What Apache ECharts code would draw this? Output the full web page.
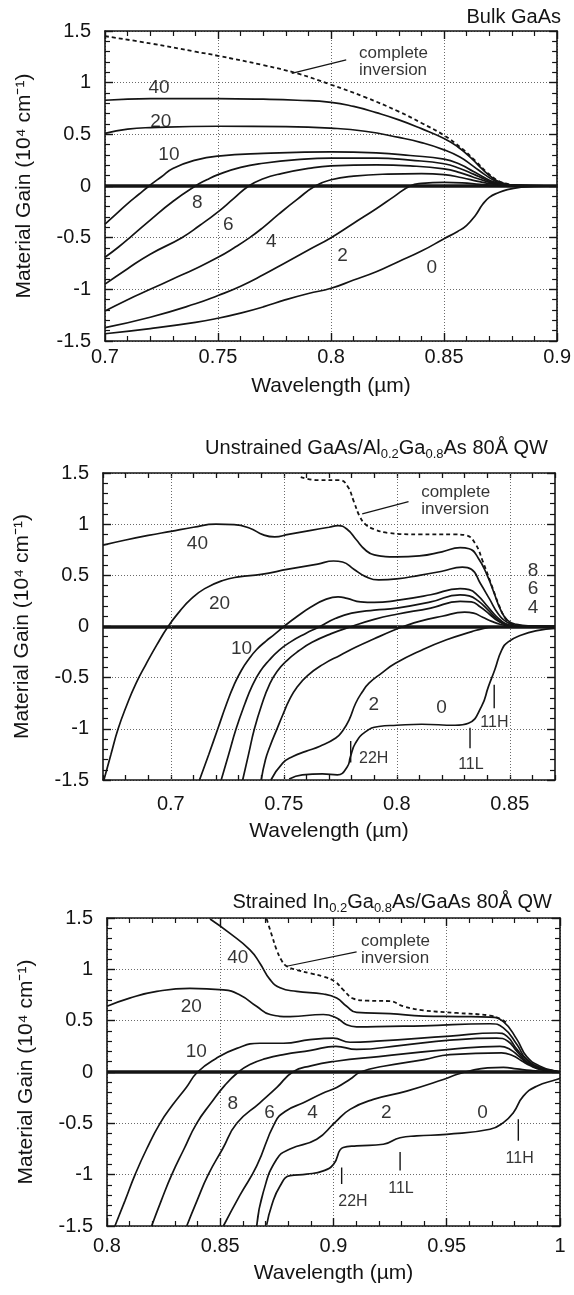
<!DOCTYPE html>
<html><head><meta charset="utf-8">
<script src="https://cdn.jsdelivr.net/npm/echarts/dist/echarts.min.js"></script>
<style>html,body{margin:0;padding:0;background:#fff;}#c{width:574px;height:1295px;}</style>
</head><body><div id="c"></div>
<script>
// ---------------- DATA ----------------
const curveNames = ['0','2','4','6','8','10','20','40'];
const yTicks = [-1.5,-1,-0.5,0,0.5,1,1.5];
const p1XTicks = [0.7,0.75,0.8,0.85,0.9];
const p2XTicks = [0.7,0.75,0.8,0.85];
const p3XTicks = [0.8,0.85,0.9,0.95,1];

// Panel 1: Bulk GaAs
const p1_inv = [[0.7,1.45],[0.72,1.38],[0.74,1.30],[0.75,1.26],[0.77,1.17],[0.785,1.09],[0.8,0.98],[0.815,0.86],[0.83,0.72],[0.84,0.61],[0.85,0.49],[0.858,0.36],[0.864,0.24],[0.869,0.13],[0.874,0.05],[0.879,0.015],[0.885,0]];
const p1_c40 = [[0.7,0.83],[0.72,0.845],[0.75,0.845],[0.77,0.84],[0.785,0.83],[0.8,0.81],[0.81,0.77],[0.82,0.71],[0.83,0.64],[0.84,0.555],[0.85,0.46],[0.856,0.38],[0.862,0.27],[0.867,0.16],[0.871,0.085],[0.875,0.035],[0.88,0.01],[0.885,0],[0.9,0]];
const p1_c20 = [[0.7,0.51],[0.71,0.55],[0.72,0.565],[0.75,0.578],[0.78,0.575],[0.8,0.56],[0.815,0.53],[0.83,0.47],[0.84,0.42],[0.85,0.35],[0.857,0.28],[0.863,0.19],[0.868,0.11],[0.872,0.055],[0.876,0.02],[0.88,0.005],[0.9,0]];
const p1_c10 = [[0.7,-0.37],[0.705,-0.27],[0.71,-0.17],[0.715,-0.08],[0.7195,0],[0.725,0.09],[0.73,0.17],[0.74,0.25],[0.75,0.29],[0.77,0.315],[0.8,0.33],[0.82,0.32],[0.835,0.295],[0.85,0.26],[0.857,0.21],[0.863,0.14],[0.868,0.08],[0.872,0.04],[0.877,0.012],[0.9,0]];
const p1_c8 = [[0.7,-0.69],[0.706,-0.59],[0.712,-0.48],[0.72,-0.33],[0.73,-0.15],[0.74,0],[0.745,0.06],[0.75,0.11],[0.76,0.18],[0.77,0.22],[0.785,0.255],[0.8,0.27],[0.82,0.27],[0.835,0.25],[0.85,0.215],[0.857,0.17],[0.863,0.115],[0.868,0.065],[0.872,0.032],[0.877,0.01],[0.9,0]];
const p1_c6 = [[0.7,-0.95],[0.71,-0.8],[0.72,-0.66],[0.734,-0.5],[0.742,-0.38],[0.75,-0.25],[0.757,-0.12],[0.7636,0],[0.77,0.07],[0.778,0.12],[0.79,0.17],[0.8,0.195],[0.82,0.205],[0.835,0.195],[0.85,0.165],[0.857,0.13],[0.863,0.085],[0.868,0.05],[0.872,0.025],[0.877,0.008],[0.9,0]];
const p1_c4 = [[0.7,-1.21],[0.71,-1.1],[0.72,-1.0],[0.73,-0.9],[0.74,-0.8],[0.75,-0.69],[0.757,-0.6],[0.764,-0.5],[0.77,-0.4],[0.777,-0.27],[0.785,-0.13],[0.793,0],[0.8,0.06],[0.81,0.095],[0.825,0.115],[0.84,0.12],[0.85,0.11],[0.858,0.08],[0.865,0.045],[0.871,0.02],[0.877,0.005],[0.9,0]];
const p1_c2 = [[0.7,-1.37],[0.72,-1.27],[0.74,-1.14],[0.75,-1.06],[0.76,-0.97],[0.77,-0.86],[0.78,-0.74],[0.79,-0.62],[0.8,-0.5],[0.81,-0.36],[0.82,-0.22],[0.828,-0.1],[0.835,0],[0.84,0.025],[0.85,0.035],[0.858,0.03],[0.866,0.015],[0.873,0.005],[0.9,0]];
const p1_c0 = [[0.7,-1.43],[0.72,-1.38],[0.74,-1.32],[0.75,-1.28],[0.76,-1.23],[0.77,-1.17],[0.78,-1.1],[0.79,-1.04],[0.8,-0.99],[0.81,-0.91],[0.82,-0.83],[0.83,-0.73],[0.84,-0.63],[0.85,-0.51],[0.856,-0.44],[0.86,-0.38],[0.864,-0.28],[0.867,-0.18],[0.87,-0.11],[0.874,-0.065],[0.878,-0.035],[0.884,-0.012],[0.89,-0.004],[0.9,0]];
const p1_leader = [[0.7826,1.09],[0.8067,1.22]];
const p1_curveLabels = [[0.7241,0.946,'40'],[0.7249,0.62,'20'],[0.7285,0.30,'10'],[0.741,-0.17,'8'],[0.7548,-0.38,'6'],[0.7738,-0.54,'4'],[0.8053,-0.68,'2'],[0.8448,-0.80,'0']];
const p1_invLabel = [0.8126,1.195,'complete\ninversion'];

// Panel 2: Unstrained GaAs/Al0.2Ga0.8As 80Å QW
const p2_inv = [[0.7575,1.46],[0.765,1.43],[0.775,1.43],[0.7785,1.36],[0.781,1.22],[0.7835,1.08],[0.786,1.0],[0.79,0.95],[0.796,0.915],[0.81,0.9],[0.825,0.9],[0.831,0.89],[0.835,0.8],[0.838,0.64],[0.842,0.4],[0.845,0.22],[0.848,0.08],[0.851,0.02],[0.856,0.004]];
const p2_c40 = [[0.67,0.795],[0.68,0.845],[0.69,0.89],[0.7,0.93],[0.71,0.97],[0.72,1.0],[0.728,0.995],[0.735,0.96],[0.741,0.895],[0.746,0.875],[0.752,0.9],[0.762,0.94],[0.77,0.97],[0.774,0.985],[0.778,0.95],[0.782,0.85],[0.786,0.75],[0.79,0.70],[0.8,0.68],[0.81,0.69],[0.82,0.73],[0.828,0.77],[0.832,0.76],[0.836,0.67],[0.84,0.50],[0.843,0.33],[0.846,0.16],[0.849,0.06],[0.853,0.02],[0.86,0.005],[0.87,0]];
const p2_c20 = [[0.6704,-1.5],[0.6735,-1.25],[0.6767,-1.0],[0.6805,-0.77],[0.6845,-0.56],[0.689,-0.37],[0.6938,-0.18],[0.6988,0],[0.704,0.15],[0.709,0.27],[0.715,0.37],[0.723,0.45],[0.73,0.485],[0.74,0.51],[0.752,0.56],[0.765,0.61],[0.772,0.64],[0.776,0.63],[0.781,0.56],[0.786,0.49],[0.792,0.455],[0.8,0.465],[0.81,0.5],[0.82,0.54],[0.829,0.58],[0.833,0.56],[0.837,0.42],[0.841,0.27],[0.845,0.12],[0.849,0.04],[0.853,0.01],[0.87,0]];
const p2_c10 = [[0.7127,-1.5],[0.7168,-1.25],[0.7208,-1.0],[0.7246,-0.76],[0.728,-0.57],[0.7312,-0.43],[0.7345,-0.32],[0.738,-0.225],[0.742,-0.145],[0.746,-0.075],[0.75,0],[0.756,0.1],[0.762,0.19],[0.768,0.26],[0.774,0.29],[0.778,0.275],[0.784,0.24],[0.79,0.235],[0.8,0.255],[0.815,0.31],[0.828,0.37],[0.832,0.36],[0.836,0.3],[0.84,0.2],[0.844,0.1],[0.848,0.03],[0.853,0.005],[0.87,0]];
const p2_c8 = [[0.7223,-1.5],[0.7256,-1.25],[0.7289,-1.0],[0.7327,-0.76],[0.736,-0.58],[0.7395,-0.44],[0.7435,-0.33],[0.748,-0.23],[0.753,-0.15],[0.7595,-0.07],[0.766,0],[0.773,0.08],[0.78,0.13],[0.79,0.16],[0.8,0.18],[0.815,0.24],[0.828,0.31],[0.832,0.30],[0.836,0.25],[0.84,0.17],[0.844,0.08],[0.848,0.02],[0.853,0.005],[0.87,0]];
const p2_c6 = [[0.7318,-1.5],[0.7344,-1.25],[0.737,-1.0],[0.7403,-0.76],[0.7436,-0.57],[0.747,-0.44],[0.7515,-0.33],[0.7565,-0.24],[0.7625,-0.155],[0.771,-0.07],[0.78,0],[0.79,0.07],[0.8,0.12],[0.815,0.18],[0.828,0.245],[0.833,0.24],[0.837,0.19],[0.841,0.12],[0.845,0.05],[0.849,0.015],[0.855,0.003],[0.87,0]];
const p2_c4 = [[0.740,-1.5],[0.7419,-1.3],[0.7439,-1.17],[0.747,-1.0],[0.7498,-0.85],[0.7524,-0.72],[0.7556,-0.6],[0.7605,-0.48],[0.7674,-0.37],[0.775,-0.28],[0.782,-0.2],[0.79,-0.12],[0.7994,-0.03],[0.803,0],[0.81,0.05],[0.82,0.1],[0.83,0.14],[0.834,0.13],[0.838,0.09],[0.842,0.05],[0.846,0.02],[0.85,0.005],[0.87,0]];
const p2_c2 = [[0.7443,-1.5],[0.7495,-1.335],[0.754,-1.27],[0.7597,-1.22],[0.766,-1.17],[0.773,-1.09],[0.776,-1.02],[0.7789,-0.912],[0.7818,-0.75],[0.7847,-0.64],[0.7877,-0.554],[0.793,-0.46],[0.7994,-0.36],[0.8112,-0.229],[0.822,-0.13],[0.8332,-0.05],[0.838,-0.02],[0.843,-0.005],[0.85,0],[0.87,0]];
const p2_c0 = [[0.7524,-1.49],[0.7582,-1.45],[0.7671,-1.44],[0.7737,-1.45],[0.7781,-1.37],[0.7795,-1.27],[0.7817,-1.14],[0.7861,-1.03],[0.792,-0.977],[0.8,-0.965],[0.811,-0.955],[0.8258,-0.965],[0.8317,-0.945],[0.8375,-0.78],[0.8405,-0.59],[0.8434,-0.42],[0.8464,-0.23],[0.8493,-0.15],[0.8552,-0.083],[0.862,-0.04],[0.87,-0.018]];
const p2_leader = [[0.7847,1.10],[0.8052,1.22]];
const p2_mark22H = [[0.7796,-1.12],[0.7796,-1.33]];
const p2_mark11L = [[0.8324,-0.99],[0.8324,-1.19]];
const p2_mark11H = [[0.8431,-0.57],[0.8431,-0.80]];
const p2_curveLabels = [[0.712,0.80,'40'],[0.7218,0.22,'20'],[0.7315,-0.226,'10'],[0.790,-0.77,'2'],[0.82,-0.80,'0'],[0.8605,0.54,'8'],[0.8605,0.36,'6'],[0.8605,0.18,'4']];
const p2_markLabels = [[0.790,-1.30,'22H'],[0.833,-1.35,'11L'],[0.8434,-0.945,'11H']];
const p2_invLabel = [0.811,1.22,'complete\ninversion'];

// Panel 3: Strained In0.2Ga0.8As/GaAs 80Å QW
const p3_inv = [[0.8705,1.49],[0.8728,1.33],[0.8749,1.19],[0.877,1.09],[0.8793,1.03],[0.8837,0.995],[0.89,0.96],[0.8955,0.93],[0.9007,0.88],[0.9043,0.80],[0.9088,0.714],[0.915,0.695],[0.925,0.69],[0.9308,0.64],[0.9397,0.60],[0.9544,0.575],[0.9691,0.55],[0.9743,0.51],[0.977,0.47]];
const p3_c40 = [[0.8455,1.49],[0.8543,1.35],[0.8631,1.19],[0.8675,1.06],[0.872,0.90],[0.8764,0.82],[0.8837,0.785],[0.8955,0.76],[0.9014,0.72],[0.9058,0.64],[0.9102,0.58],[0.925,0.568],[0.9397,0.545],[0.955,0.54],[0.9691,0.535],[0.975,0.49],[0.9809,0.32],[0.9853,0.15],[0.9912,0.056],[0.9985,0.005],[1.0,0]];
const p3_c20 = [[0.8,0.64],[0.81,0.72],[0.822,0.785],[0.8366,0.815],[0.8514,0.80],[0.8587,0.75],[0.866,0.64],[0.872,0.56],[0.8808,0.54],[0.8955,0.56],[0.9014,0.526],[0.9058,0.46],[0.9102,0.44],[0.925,0.445],[0.9397,0.45],[0.9691,0.47],[0.975,0.43],[0.9809,0.27],[0.9853,0.12],[0.9912,0.04],[0.9985,0.005],[1.0,0]];
const p3_c10 = [[0.8035,-1.5],[0.808,-1.25],[0.8124,-1.0],[0.8175,-0.75],[0.8234,-0.5],[0.829,-0.32],[0.835,-0.15],[0.840,0],[0.848,0.13],[0.8573,0.23],[0.8675,0.28],[0.8779,0.28],[0.8896,0.315],[0.8999,0.33],[0.9073,0.29],[0.919,0.30],[0.9514,0.35],[0.972,0.38],[0.9765,0.35],[0.981,0.22],[0.9853,0.12],[0.9912,0.04],[0.9985,0.005],[1,0]];
const p3_c8 = [[0.8197,-1.5],[0.824,-1.25],[0.8286,-1.0],[0.834,-0.75],[0.8396,-0.5],[0.846,-0.3],[0.852,-0.13],[0.858,0],[0.8631,0.073],[0.87,0.13],[0.8779,0.17],[0.89,0.21],[0.901,0.25],[0.9102,0.22],[0.93,0.26],[0.9514,0.31],[0.972,0.33],[0.977,0.3],[0.981,0.2],[0.9853,0.1],[0.9912,0.035],[0.9985,0.005],[1,0]];
const p3_c6 = [[0.8352,-1.5],[0.8398,-1.25],[0.8447,-1.0],[0.851,-0.75],[0.8573,-0.5],[0.8675,-0.3],[0.875,-0.15],[0.882,0],[0.89,0.06],[0.901,0.105],[0.92,0.15],[0.9514,0.22],[0.9735,0.25],[0.978,0.22],[0.982,0.15],[0.986,0.08],[0.991,0.03],[0.998,0.005],[1,0]];
const p3_c4 = [[0.8514,-1.5],[0.8587,-1.2],[0.8661,-0.915],[0.8742,-0.49],[0.879,-0.38],[0.8867,-0.3],[0.895,-0.21],[0.9014,-0.15],[0.9073,-0.07],[0.912,0],[0.922,0.056],[0.94,0.12],[0.9514,0.17],[0.9742,0.186],[0.979,0.16],[0.983,0.11],[0.987,0.06],[0.992,0.02],[0.998,0.003],[1,0]];
const p3_c2 = [[0.8661,-1.5],[0.869,-1.17],[0.8749,-0.85],[0.8808,-0.75],[0.8926,-0.655],[0.9007,-0.49],[0.9073,-0.364],[0.9176,-0.267],[0.9323,-0.186],[0.9485,-0.073],[0.955,-0.02],[0.96,0.01],[0.968,0.04],[0.975,0.045],[0.981,0.03],[0.987,0.015],[0.993,0.005],[1,0]];
const p3_c0 = [[0.8705,-1.49],[0.8727,-1.3],[0.8764,-1.11],[0.8808,-1.01],[0.8882,-0.995],[0.8955,-0.963],[0.9,-0.90],[0.9043,-0.736],[0.9102,-0.72],[0.922,-0.704],[0.9294,-0.64],[0.9367,-0.623],[0.95,-0.607],[0.9691,-0.558],[0.975,-0.493],[0.9794,-0.396],[0.9838,-0.235],[0.9897,-0.138],[0.9985,-0.073],[1.0,-0.06]];
const p3_leader = [[0.8793,1.03],[0.9102,1.17]];
const p3_mark22H = [[0.9036,-0.93],[0.9036,-1.09]];
const p3_mark11L = [[0.9294,-0.78],[0.9294,-0.96]];
const p3_mark11H = [[0.9816,-0.46],[0.9816,-0.67]];
const p3_curveLabels = [[0.858,1.11,'40'],[0.8374,0.633,'20'],[0.8396,0.196,'10'],[0.8558,-0.315,'8'],[0.872,-0.40,'6'],[0.891,-0.40,'4'],[0.9235,-0.40,'2'],[0.966,-0.40,'0']];
const p3_markLabels = [[0.9088,-1.27,'22H'],[0.930,-1.14,'11L'],[0.9824,-0.85,'11H']];
const p3_invLabel = [0.9124,1.185,'complete\ninversion'];

// ---------------- BUILD ----------------
const FONT = '"Liberation Sans", Arial, Helvetica, sans-serif';
const INK = '#141414';
const GRIDC = '#6a6a6a';

const panels = [
  {grid:{left:105,top:31,width:455,height:310}, xr:[0.7,0.9], xTicks:p1XTicks, regular:true, labelMargin:6, nameGap:35,
   curves:[p1_c0,p1_c2,p1_c4,p1_c6,p1_c8,p1_c10,p1_c20,p1_c40], inv:p1_inv, leader:p1_leader, marks:[],
   curveLabels:p1_curveLabels, markLabels:[], invLabel:p1_invLabel},
  {grid:{left:103,top:473,width:452,height:307}, xr:[0.67,0.87], xTicks:p2XTicks, regular:false, labelMargin:14, nameGap:41,
   curves:[p2_c0,p2_c2,p2_c4,p2_c6,p2_c8,p2_c10,p2_c20,p2_c40], inv:p2_inv, leader:p2_leader, marks:[p2_mark22H,p2_mark11L,p2_mark11H],
   curveLabels:p2_curveLabels, markLabels:p2_markLabels, invLabel:p2_invLabel},
  {grid:{left:107,top:918,width:453,height:308}, xr:[0.8,1.0], xTicks:p3XTicks, regular:true, labelMargin:10, nameGap:37,
   curves:[p3_c0,p3_c2,p3_c4,p3_c6,p3_c8,p3_c10,p3_c20,p3_c40], inv:p3_inv, leader:p3_leader, marks:[p3_mark22H,p3_mark11L,p3_mark11H],
   curveLabels:p3_curveLabels, markLabels:p3_markLabels, invLabel:p3_invLabel}
];

const grids=[], xAxes=[], yAxes=[], series=[];
const axisLine = {show:true, onZero:false, lineStyle:{color:INK, width:1.6}};
const isMajor = v => Math.abs(v*20 - Math.round(v*20)) < 1e-6;

panels.forEach((p, g) => {
  grids.push(Object.assign({containLabel:false}, p.grid));
  const xBase = {gridIndex:g, type:'value', min:p.xr[0], max:p.xr[1], axisLine};
  let xBottom, xTop;
  if (p.regular) {
    const t = {interval:0.05,
      axisTick:{show:true, inside:true, length:8, lineStyle:{color:INK,width:1.4}},
      minorTick:{show:true, splitNumber:5, length:5, lineStyle:{color:INK,width:1.2}}};
    xBottom = Object.assign({}, xBase, t, {position:'bottom',
      splitLine:{show:true, lineStyle:{color:GRIDC, width:1, type:[1,2]}},
      axisLabel:{show:true, margin:p.labelMargin, fontSize:20, color:INK, fontFamily:FONT, showMinLabel:true, showMaxLabel:true}});
    xTop = Object.assign({}, xBase, t, {position:'top', splitLine:{show:false}, axisLabel:{show:false}});
  } else {
    const t = {interval:0.01,
      axisTick:{show:true, inside:true, length:5, lineStyle:{color:INK,width:1.3}},
      minorTick:{show:false}};
    xBottom = Object.assign({}, xBase, t, {position:'bottom', splitLine:{show:false},
      axisLabel:{show:true, margin:p.labelMargin, fontSize:20, color:INK, fontFamily:FONT,
        formatter: v => isMajor(v) ? String(+v.toFixed(2)) : ''}});
    xTop = Object.assign({}, xBase, t, {position:'top', splitLine:{show:false}, axisLabel:{show:false}});
  }
  Object.assign(xBottom, {name:'Wavelength (\u00b5m)', nameLocation:'middle', nameGap:p.nameGap,
    nameTextStyle:{fontSize:21, color:INK, fontFamily:FONT}});
  xAxes.push(xBottom, xTop);

  const yBase = {gridIndex:g, type:'value', min:-1.5, max:1.5, interval:0.5, axisLine,
    axisTick:{show:true, inside:true, length:8, lineStyle:{color:INK,width:1.4}},
    minorTick:{show:true, splitNumber:5, length:5, lineStyle:{color:INK,width:1.2}}};
  yAxes.push(Object.assign({}, yBase, {position:'left',
    splitLine:{show:true, lineStyle:{color:GRIDC, width:1, type:[1,2]}},
    axisLabel:{show:true, margin:14, fontSize:20, color:INK, fontFamily:FONT},
    name:'Material Gain (10\u2074 cm\u207b\u00b9)', nameLocation:'middle', nameGap:70,
    nameTextStyle:{fontSize:21, color:INK, fontFamily:FONT}}));
  yAxes.push(Object.assign({}, yBase, {position:'right', splitLine:{show:false}, axisLabel:{show:false}}));

  const xi = 2*g, yi = 2*g;
  const base = {type:'line', xAxisIndex:xi, yAxisIndex:yi, symbol:'none', showSymbol:false,
    silent:true, animation:false, clip:true};

  const mlData = [{yAxis:0, lineStyle:{color:INK, width:3.5, type:'solid'}}];
  if (!p.regular) p.xTicks.forEach(v => mlData.push({xAxis:v, lineStyle:{color:GRIDC, width:1, type:[1,2]}}));

  p.curves.forEach((c, k) => {
    const s = Object.assign({}, base, {name:'n'+curveNames[k]+'_'+g, data:c, smooth:0.5,
      lineStyle:{color:INK, width:1.7}, z:3});
    if (k === 0) s.markLine = {silent:true, symbol:['none','none'], label:{show:false}, animation:false, z:2, data:mlData};
    series.push(s);
  });
  series.push(Object.assign({}, base, {name:'inv_'+g, data:p.inv, smooth:0.4,
    lineStyle:{color:INK, width:1.8, type:[4,3]}, z:4}));
  series.push(Object.assign({}, base, {name:'lead_'+g, data:p.leader, lineStyle:{color:INK, width:1.2}, z:4}));
  p.marks.forEach((m, k) => series.push(Object.assign({}, base, {name:'mk'+k+'_'+g, data:m, lineStyle:{color:INK, width:1.4}, z:4})));

  const lab = (arr, size, extra) => Object.assign({type:'scatter', xAxisIndex:xi, yAxisIndex:yi, silent:true, animation:false,
    symbol:'circle', symbolSize:1, itemStyle:{color:'rgba(255,255,255,0)'},
    data: arr.map(a => ({value:[a[0],a[1]], name:a[2]})),
    label:Object.assign({show:true, position:[0,0], align:'center', verticalAlign:'middle',
      formatter: q => q.name, fontSize:size, color:'#000', textBorderWidth:0, fontFamily:FONT}, extra||{}), z:6});
  series.push(lab(p.curveLabels, 19));
  if (p.markLabels.length) series.push(lab(p.markLabels, 16));
  series.push(lab([p.invLabel], 17, {align:'left', lineHeight:17}));
});

const titleStyle = {fontSize:20, fontWeight:'normal', color:INK, fontFamily:FONT};
const richStyle = {
  m:{fontSize:20, lineHeight:26, fontWeight:'normal', color:INK, fontFamily:FONT},
  s:{fontSize:13, lineHeight:13, fontWeight:'normal', verticalAlign:'bottom', color:INK, fontFamily:FONT}
};

const option = {
  backgroundColor:'#ffffff',
  animation:false,
  title:[
    {text:'Bulk GaAs', right:13, top:7, padding:0, textStyle:titleStyle},
    {text:'{m|Unstrained GaAs/Al}{s|0.2}{m|Ga}{s|0.8}{m|As 80\u00c5 QW}', right:26, top:435, padding:0, textStyle:{fontWeight:'normal', rich:richStyle}},
    {text:'{m|Strained In}{s|0.2}{m|Ga}{s|0.8}{m|As/GaAs 80\u00c5 QW}', right:22, top:889, padding:0, textStyle:{fontWeight:'normal', rich:richStyle}}
  ],
  grid:grids, xAxis:xAxes, yAxis:yAxes, series
};

const chart = echarts.init(document.getElementById('c'), null, {renderer:'canvas'});
chart.setOption(option);
</script></body></html>
